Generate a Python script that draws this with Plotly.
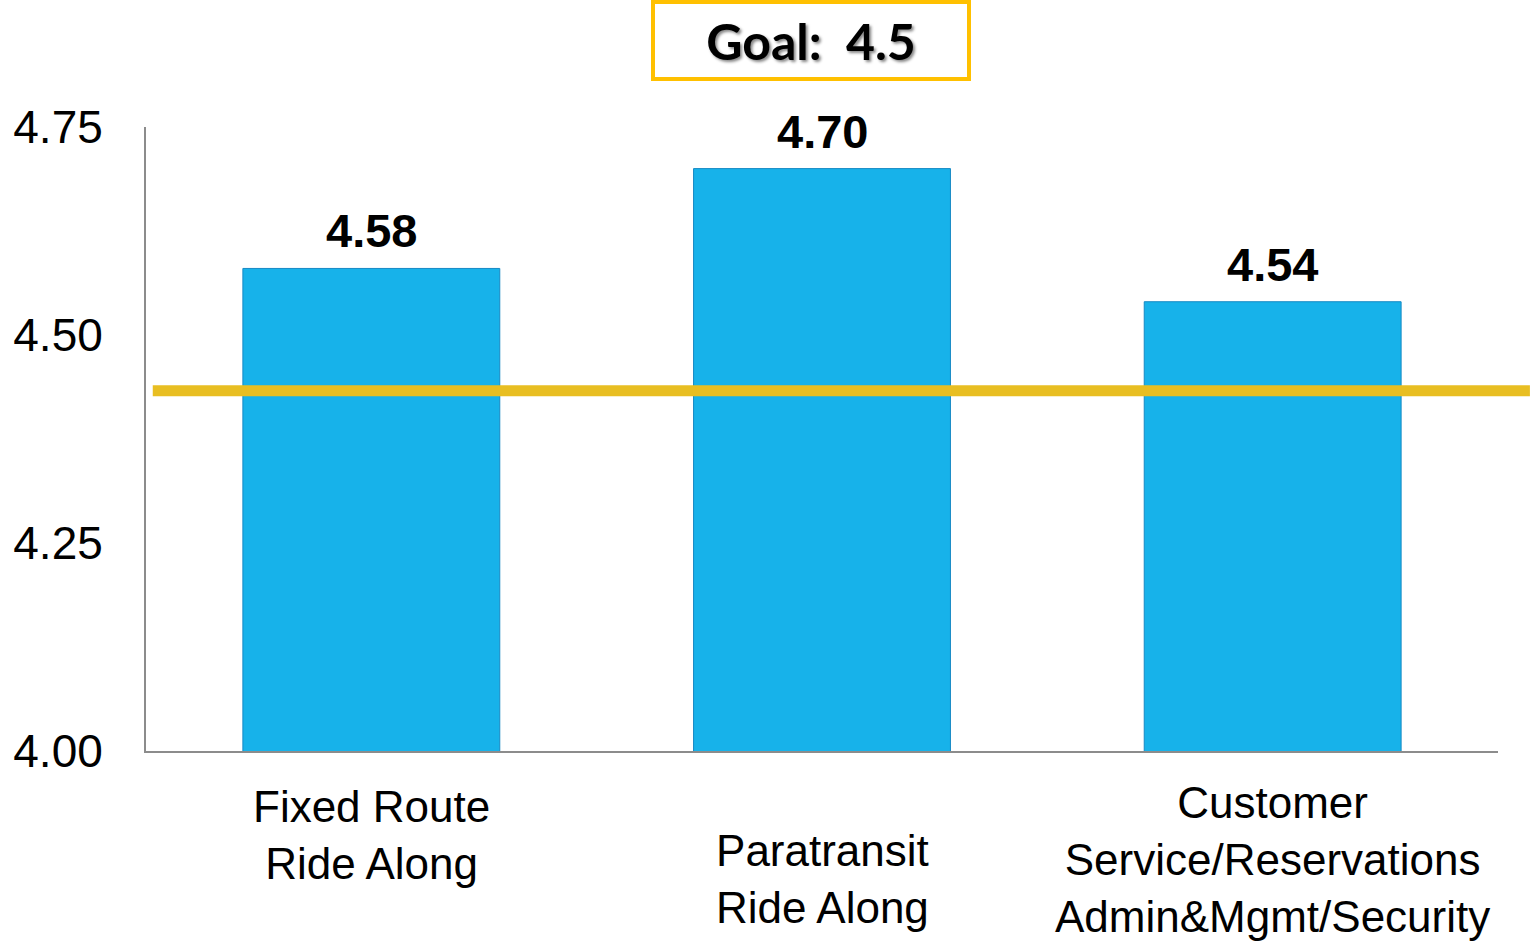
import plotly.graph_objects as go

# ---- data ----
categories = ["Fixed Route<br>Ride Along",
              "Paratransit<br>Ride Along",
              "Customer<br>Service/Reservations<br>Admin&Mgmt/Security"]
category_keys = ["Fixed Route", "Paratransit", "Customer Service"]
scores = [4.58, 4.70, 4.54]
score_labels = ["4.58", "4.70", "4.54"]
goal_value = 4.5
goal_line_level = 4.433         # where the goal line sits in the picture
y_ticks = [4.00, 4.25, 4.50, 4.75]
y_tick_labels = ["4.00", "4.25", "4.50", "4.75"]
# vertical offsets (px below axis) of the category label blocks
label_offsets = [84, 128, 108]

FONT = "Liberation Sans, Arial, sans-serif"

fig = go.Figure()
fig.add_trace(go.Bar(
    x=category_keys, y=scores,
    marker=dict(color="#17B2EA", line=dict(color="#1689C4", width=1)),
    width=0.57, hoverinfo="skip", showlegend=False,
))

# value labels above bars
for k, v, t in zip(category_keys, scores, score_labels):
    fig.add_annotation(x=k, y=v, xref="x", yref="y", text="<b>%s</b>" % t,
                       showarrow=False, yanchor="bottom", yshift=9,
                       font=dict(family=FONT, size=47, color="#000000"))

# category labels
for k, lab, off in zip(category_keys, categories, label_offsets):
    fig.add_annotation(x=k, y=0, xref="x", yref="paper", text=lab,
                       showarrow=False, yanchor="middle", yshift=-off,
                       align="center",
                       font=dict(family=FONT, size=44, color="#000000"))

# goal line
fig.add_shape(type="line", xref="paper", yref="y",
              x0=0.005, x1=1.0236, y0=goal_line_level, y1=goal_line_level,
              line=dict(color="#E8BE22", width=11), layer="above")

# goal box
fig.add_annotation(x=0.4915, y=1.139, xref="paper", yref="paper",
                   text="<b>Goal:&nbsp; %s</b>" % goal_value,
                   showarrow=False, xanchor="center", yanchor="middle",
                   width=312, height=73, bordercolor="#FFC000", borderwidth=4,
                   borderpad=0, bgcolor="rgba(255,255,255,0)",
                   font=dict(family="Lato, sans-serif", size=50, color="#000000",
                             shadow="2px 2px 3px #888888"))

fig.update_layout(
    width=1538, height=944,
    margin=dict(l=146, r=40, t=127, b=193, autoexpand=False),
    plot_bgcolor="white", paper_bgcolor="white",
    bargap=0.43,
    xaxis=dict(showticklabels=False, showline=True, linecolor="#8C8C8C",
               linewidth=2, ticks="", showgrid=False, zeroline=False,
               automargin=False),
    yaxis=dict(range=[4.0, 4.75], tickvals=y_ticks, ticktext=y_tick_labels,
               showline=True, linecolor="#8C8C8C", linewidth=2, ticks="",
               showgrid=False, zeroline=False, ticklabelstandoff=32,
               automargin=False,
               tickfont=dict(family=FONT, size=46, color="#000000")),
)

fig.write_html("out.html")
